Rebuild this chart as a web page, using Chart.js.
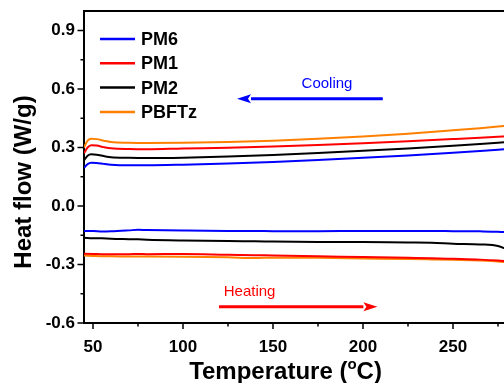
<!DOCTYPE html>
<html>
<head>
<meta charset="utf-8">
<script src="https://cdn.jsdelivr.net/npm/chart.js@4"></script>
<style>
    body { margin: 0; overflow: hidden; background: #fff; }
    #wrap { width: 512px; height: 383px; }
</style>
</head>
<body>
<div id="wrap"><canvas id="dscChart" width="512" height="383"></canvas></div>
<script>
// series names + colours (legend order)
const names = ['PM6', 'PM1', 'PM2', 'PBFTz'];
const colors = ['#0000ff', '#ff0000', '#000000', '#ff8000'];

// cooling scans (upper curves)
const coolTemp = [45, 47, 49, 52, 56, 60, 70, 80, 100, 125, 150, 175, 200, 225, 250, 265, 280];
const coolPM6 = [0.195, 0.215, 0.222, 0.221, 0.216, 0.212, 0.209, 0.209, 0.212, 0.218, 0.226, 0.236, 0.247, 0.259, 0.273, 0.282, 0.292];
const coolPM1 = [0.270, 0.300, 0.312, 0.310, 0.302, 0.296, 0.292, 0.291, 0.295, 0.299, 0.305, 0.313, 0.322, 0.332, 0.343, 0.350, 0.358];
const coolPM2 = [0.235, 0.258, 0.265, 0.263, 0.256, 0.250, 0.247, 0.246, 0.248, 0.254, 0.262, 0.272, 0.283, 0.295, 0.309, 0.318, 0.328];
const coolPBFTz = [0.300, 0.335, 0.345, 0.343, 0.335, 0.328, 0.324, 0.323, 0.324, 0.328, 0.335, 0.345, 0.357, 0.371, 0.388, 0.399, 0.412];

// heating scans (lower curves)
const heatTemp = [45, 50, 55, 60, 70, 75, 80, 100, 125, 140, 150, 175, 200, 225, 238, 250, 265, 275, 280];
const heatPM6 = [-0.128, -0.128, -0.131, -0.130, -0.125, -0.122, -0.123, -0.126, -0.128, -0.128, -0.129, -0.129, -0.128, -0.128, -0.128, -0.129, -0.130, -0.132, -0.135];
const heatPM1 = [-0.245, -0.246, -0.247, -0.247, -0.247, -0.246, -0.247, -0.246, -0.250, -0.252, -0.254, -0.258, -0.262, -0.266, -0.268, -0.271, -0.275, -0.280, -0.284];
const heatPM2 = [-0.163, -0.165, -0.166, -0.168, -0.170, -0.171, -0.173, -0.177, -0.180, -0.181, -0.182, -0.184, -0.185, -0.187, -0.188, -0.193, -0.197, -0.205, -0.222];
const heatPBFTz = [-0.254, -0.256, -0.258, -0.258, -0.259, -0.259, -0.259, -0.260, -0.263, -0.267, -0.265, -0.266, -0.269, -0.272, -0.274, -0.276, -0.279, -0.284, -0.290];

// axis ticks
const xTicks = [50, 100, 150, 200, 250];
const xMinor = [75, 125, 175, 225, 275];
const yTicks = [-0.6, -0.3, 0.0, 0.3, 0.6, 0.9];
const yMinor = [-0.45, -0.15, 0.15, 0.45, 0.75];

const FONT = 'Arial, "Liberation Sans", sans-serif';

function toPoints(temps, vals) {
    return temps.map((t, i) => ({ x: t, y: vals[i] }));
}

function arrow(ctx, x1, x2, y, color) {
    // line from x1 to x2, head at x2
    const dir = x2 > x1 ? 1 : -1;
    const headLen = 14;
    ctx.strokeStyle = color;
    ctx.fillStyle = color;
    ctx.lineWidth = 3;
    ctx.beginPath();
    ctx.moveTo(x1, y);
    ctx.lineTo(x2 - dir * headLen, y);
    ctx.stroke();
    ctx.beginPath();
    ctx.moveTo(x2, y);
    ctx.lineTo(x2 - dir * headLen, y - 4.5);
    ctx.lineTo(x2 - dir * headLen + dir * 3, y);
    ctx.lineTo(x2 - dir * headLen, y + 4.5);
    ctx.closePath();
    ctx.fill();
}

const decorPlugin = {
    id: 'decor',
    afterDraw(chart) {
        const ctx = chart.ctx;
        const area = chart.chartArea;
        const xs = chart.scales.x;
        const ys = chart.scales.y;
        ctx.save();

        // frame top + right
        ctx.strokeStyle = '#000';
        ctx.lineWidth = 2;
        ctx.beginPath();
        ctx.moveTo(area.left - 1, area.top);
        ctx.lineTo(area.right, area.top);
        ctx.lineTo(area.right, area.bottom);
        ctx.stroke();

        // tick marks (outside)
        ctx.lineWidth = 1.5;
        ctx.beginPath();
        xTicks.forEach(v => { const p = xs.getPixelForValue(v); ctx.moveTo(p, area.bottom); ctx.lineTo(p, area.bottom + 6); });
        xMinor.forEach(v => { const p = xs.getPixelForValue(v); ctx.moveTo(p, area.bottom); ctx.lineTo(p, area.bottom + 3.5); });
        yTicks.forEach(v => { const p = ys.getPixelForValue(v); ctx.moveTo(area.left, p); ctx.lineTo(area.left - 6.5, p); });
        yMinor.forEach(v => { const p = ys.getPixelForValue(v); ctx.moveTo(area.left, p); ctx.lineTo(area.left - 3.5, p); });
        ctx.stroke();

        // legend
        ctx.font = 'bold 18px ' + FONT;
        ctx.textBaseline = 'middle';
        ctx.textAlign = 'left';
        names.forEach((n, i) => {
            const y = area.top + 28 + i * 24.3;
            ctx.strokeStyle = colors[i];
            ctx.lineWidth = 2.5;
            ctx.beginPath();
            ctx.moveTo(area.left + 16, y);
            ctx.lineTo(area.left + 51, y);
            ctx.stroke();
            ctx.fillStyle = '#000';
            ctx.fillText(n, area.left + 57, y + 1);
        });

        // cooling / heating annotations
        ctx.font = '15px ' + FONT;
        ctx.textAlign = 'center';
        ctx.fillStyle = '#0000ff';
        ctx.fillText('Cooling', xs.getPixelForValue(180), ys.getPixelForValue(0.628));
        arrow(ctx, xs.getPixelForValue(211), xs.getPixelForValue(130), ys.getPixelForValue(0.55), '#0000ff');
        ctx.fillStyle = '#ff0000';
        ctx.fillText('Heating', xs.getPixelForValue(137), ys.getPixelForValue(-0.442));
        arrow(ctx, xs.getPixelForValue(120), xs.getPixelForValue(208), ys.getPixelForValue(-0.517), '#ff0000');

        // axis titles
        ctx.fillStyle = '#000';
        ctx.textBaseline = 'alphabetic';
        ctx.textAlign = 'left';
        const t1 = 'Temperature (';
        const t2 = 'o';
        const t3 = 'C)';
        ctx.font = 'bold 24px ' + FONT;
        const w1 = ctx.measureText(t1).width;
        const w3 = ctx.measureText(t3).width;
        ctx.font = 'bold 15px ' + FONT;
        const w2 = ctx.measureText(t2).width;
        let x = (area.left + area.right) / 2 - 10 - (w1 + w2 + w3) / 2;
        const base = 379;
        ctx.font = 'bold 24px ' + FONT;
        ctx.fillText(t1, x, base);
        ctx.font = 'bold 15px ' + FONT;
        ctx.fillText(t2, x + w1, base - 10);
        ctx.font = 'bold 24px ' + FONT;
        ctx.fillText(t3, x + w1 + w2, base);

        ctx.translate(31, (area.top + area.bottom) / 2 + 15);
        ctx.rotate(-Math.PI / 2);
        ctx.textAlign = 'center';
        ctx.fillText('Heat flow (W/g)', 0, 0);

        ctx.restore();
    }
};

document.addEventListener('DOMContentLoaded', function() {
    const coolSets = [coolPM6, coolPM1, coolPM2, coolPBFTz];
    const heatSets = [heatPM6, heatPM1, heatPM2, heatPBFTz];
    const datasets = [];

    names.forEach((n, i) => {
        datasets.push({ label: n + ' cooling', data: toPoints(coolTemp, coolSets[i]), borderColor: colors[i] });
        datasets.push({ label: n + ' heating', data: toPoints(heatTemp, heatSets[i]), borderColor: colors[i] });
    });
    datasets.forEach(d => {
        d.borderWidth = 2;
        d.pointRadius = 0;
        d.fill = false;
        d.cubicInterpolationMode = 'monotone';
    });

    const ctx = document.getElementById('dscChart').getContext('2d');
    new Chart(ctx, {
        type: 'line',
        data: { datasets: datasets },
        options: {
            responsive: false,
            animation: false,
            layout: { padding: { top: 11, right: 5, left: 0, bottom: 0 } },
            plugins: { legend: { display: false }, tooltip: { enabled: false } },
            scales: {
                x: {
                    type: 'linear',
                    min: 45,
                    max: 280,
                    afterBuildTicks: s => { s.ticks = xTicks.map(v => ({ value: v })); },
                    afterFit: s => { s.height = 60; s.paddingLeft = 0; s.paddingRight = 0; },
                    grid: { display: false, drawTicks: false },
                    border: { display: true, width: 2, color: '#000' },
                    ticks: {
                        color: '#000',
                        padding: 14,
                        maxRotation: 0,
                        font: { family: FONT, size: 17, weight: 'bold' }
                    }
                },
                y: {
                    min: -0.6,
                    max: 1.0,
                    afterBuildTicks: s => { s.ticks = yTicks.map(v => ({ value: v })); },
                    afterFit: s => { s.width = 84; s.paddingTop = 0; s.paddingBottom = 0; },
                    grid: { display: false, drawTicks: false },
                    border: { display: true, width: 2, color: '#000' },
                    ticks: {
                        color: '#000',
                        padding: 9,
                        font: { family: FONT, size: 17, weight: 'bold' },
                        callback: v => v.toFixed(1)
                    }
                }
            }
        },
        plugins: [decorPlugin]
    });
});
</script>
</body>
</html>
